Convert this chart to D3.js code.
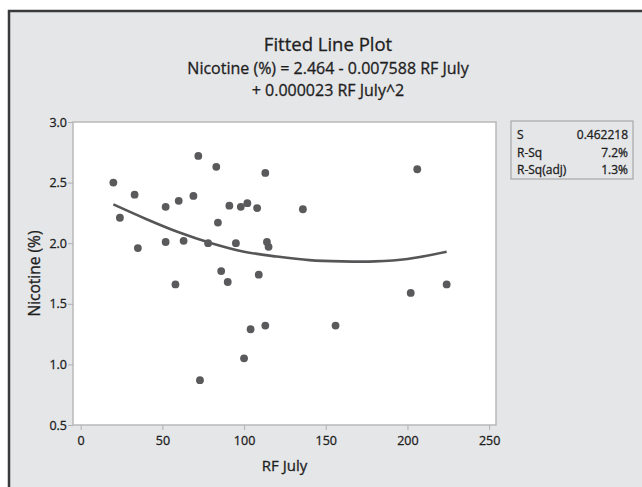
<!DOCTYPE html>
<html>
<head>
<meta charset="utf-8">
<script src="https://cdn.jsdelivr.net/npm/d3@7/dist/d3.min.js"></script>
<style>
  body { margin: 0; background: #fff; }
  text { font-family: "Open Sans", sans-serif; fill: #1e1e1e; stroke: #1e1e1e; stroke-width: 0.3px; }
</style>
</head>
<body>
<div id="viz"></div>
<script>
// RF July vs Nicotine (%) observations
const rfJuly = [20, 24, 33, 35, 52, 52, 60, 58, 63, 69, 72, 83, 78, 84, 86, 90, 91, 95, 98, 102,
  108, 109, 113, 114, 115, 73, 100, 104, 113, 136, 206, 202, 224, 156];
const nicotine = [2.50, 2.21, 2.40, 1.96, 2.01, 2.30, 2.35, 1.66, 2.02, 2.39, 2.72, 2.63, 2.00, 2.17, 1.77, 1.68, 2.31, 2.00, 2.30, 2.33,
  2.29, 1.74, 2.58, 2.01, 1.97, 0.87, 1.05, 1.29, 1.32, 2.28, 2.61, 1.59, 1.66, 1.32];

// fitted curve
const fitX = [20, 40, 60, 80, 100, 120, 140, 160, 180, 200, 224];
const fitY = [2.32, 2.20, 2.09, 2.00, 1.93, 1.89, 1.86, 1.85, 1.85, 1.87, 1.93];

const xTicks = [0, 50, 100, 150, 200, 250];
const yTicks = [0.5, 1.0, 1.5, 2.0, 2.5, 3.0];

const statLabels = ["S", "R-Sq", "R-Sq(adj)"];
const statValues = ["0.462218", "7.2%", "1.3%"];

const W = 642, H = 487;
const plot = { left: 73, right: 496, top: 122, bottom: 425 };

const svg = d3.select("#viz").append("svg")
  .attr("width", W)
  .attr("height", H);

// frame + background
svg.append("rect")
  .attr("x", 9).attr("y", 11)
  .attr("width", W).attr("height", H)
  .attr("fill", "#e5e6e8")
  .attr("stroke", "#3a3a3a")
  .attr("stroke-width", 2.5);

const x = d3.scaleLinear().domain([-4.7, 254.2]).range([plot.left, plot.right]);
const y = d3.scaleLinear().domain([0.5, 3.0]).range([plot.bottom, plot.top]);

svg.append("rect")
  .attr("x", plot.left).attr("y", plot.top)
  .attr("width", plot.right - plot.left)
  .attr("height", plot.bottom - plot.top)
  .attr("fill", "#fff")
  .attr("stroke", "#b9b9bb")
  .attr("stroke-width", 1.5);

const xAxis = svg.append("g")
  .attr("transform", `translate(0,${plot.bottom})`)
  .call(d3.axisBottom(x).tickValues(xTicks).tickSize(5).tickSizeOuter(0));
const yAxis = svg.append("g")
  .attr("transform", `translate(${plot.left},0)`)
  .call(d3.axisLeft(y).tickValues(yTicks).tickFormat(d3.format(".1f")).tickSize(5).tickSizeOuter(0));

[xAxis, yAxis].forEach(g => {
  g.select(".domain").remove();
  g.selectAll(".tick line").attr("stroke", "#b0b0b2");
  g.selectAll(".tick text")
    .style("font-family", "'Open Sans', sans-serif")
    .style("font-size", "12.5px")
    .attr("fill", "#1e1e1e");
});
xAxis.selectAll(".tick text").attr("dy", "0.95em");
yAxis.selectAll(".tick text").attr("x", -6);

// fitted line
const line = d3.line()
  .x((d, i) => x(fitX[i]))
  .y(d => y(d))
  .curve(d3.curveCatmullRom);

svg.append("path")
  .attr("d", line(fitY))
  .attr("fill", "none")
  .attr("stroke", "#565658")
  .attr("stroke-width", 2.6);

// points
svg.append("g").selectAll("circle")
  .data(rfJuly)
  .join("circle")
  .attr("cx", d => x(d))
  .attr("cy", (d, i) => y(nicotine[i]))
  .attr("r", 3.9)
  .attr("fill", "#5a5a5c");

// titles
const cx = 328;
svg.append("text").attr("x", cx).attr("y", 51)
  .attr("text-anchor", "middle").style("font-size", "18.5px")
  .text("Fitted Line Plot");
svg.append("text").attr("x", cx).attr("y", 74)
  .attr("text-anchor", "middle").style("font-size", "16px")
  .text("Nicotine (%) = 2.464 - 0.007588 RF July");
svg.append("text").attr("x", cx).attr("y", 96)
  .attr("text-anchor", "middle").style("font-size", "16px")
  .text("+ 0.000023 RF July^2");

// axis labels
svg.append("text")
  .attr("x", (plot.left + plot.right) / 2).attr("y", 471)
  .attr("text-anchor", "middle").style("font-size", "15px")
  .text("RF July");
svg.append("text")
  .attr("transform", `translate(40,${(plot.top + plot.bottom) / 2}) rotate(-90)`)
  .attr("text-anchor", "middle").style("font-size", "15.5px")
  .text("Nicotine (%)");

// stats box
const box = svg.append("g");
box.append("rect")
  .attr("x", 511).attr("y", 121)
  .attr("width", 122).attr("height", 58)
  .attr("fill", "#e5e6e8")
  .attr("stroke", "#a9a9ab")
  .attr("stroke-width", 1.2);
statLabels.forEach((s, i) => {
  box.append("text").attr("x", 517).attr("y", 139 + i * 17.5)
    .style("font-size", "12px").text(s);
  box.append("text").attr("x", 628).attr("y", 139 + i * 17.5)
    .attr("text-anchor", "end").style("font-size", "12px").text(statValues[i]);
});
</script>
</body>
</html>
